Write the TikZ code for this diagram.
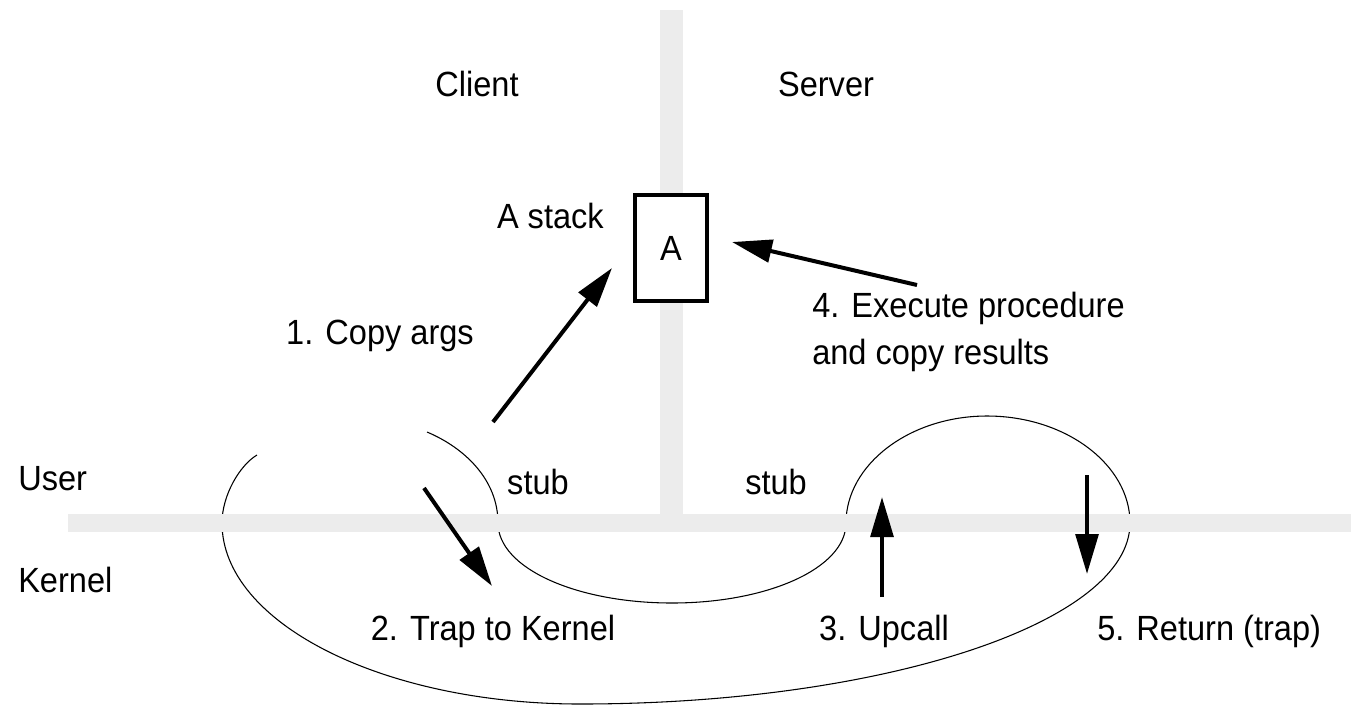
\documentclass[tikz,border=0pt]{standalone}
\usepackage{fontspec}
\setmainfont{Liberation Sans}[FakeStretch=0.93]
\usetikzlibrary{arrows.meta,positioning}
\definecolor{barcolor}{RGB}{236,236,236}
\tikzset{
       arr/.style = {-{Triangle[length=30pt,width=17pt]}, line width=3pt},   % <--- thick call arrows
       bar/.style = {fill=barcolor, draw=none},
  callpath/.style = {line width=0.8pt},
  stackbox/.style = {draw, line width=3pt, fill=white,
                     minimum width=54pt, minimum height=79.5pt},
       txt/.style = {anchor=base},
        }

\begin{document}
\begin{tikzpicture}[x=0.75pt,y=-0.75pt,
  every node/.style={font=\fontsize{26.25pt}{35pt}\selectfont, inner sep=0pt}]
  \useasboundingbox (0,0) rectangle (1351,708);
  % the control path through user and kernel
  \coordinate (p0) at (427,432);
  \coordinate (p1) at (498,523);
  \coordinate (p2) at (672,603);
  \coordinate (p3) at (846,523);
  \coordinate (p4) at (987,416);
  \coordinate (p5) at (1130,523);
  \coordinate (p6) at (580,704);
  \coordinate (p7) at (222,523);
  \coordinate (p8) at (257,455);
  \draw[callpath] (p0) .. controls (465,448) and (498,480) .. (p1)
    .. controls (498,568) and (576,603) .. (p2)
    .. controls (768,603) and (846,568) .. (p3)
    .. controls (846,465) and (909,416) .. (p4)
    .. controls (1066,416) and (1130,465) .. (p5)
    .. controls (1130,623) and (882,704) .. (p6)
    .. controls (383,704) and (222,623) .. (p7)
    .. controls (222,495) and (240,465) .. (p8);
  % client/server and user/kernel boundaries
  \fill[bar] (68,514) rectangle (1351,532);
  \fill[bar] (660,10) rectangle (683,532);
  \node[stackbox] (A) at (671,248) {A};
  \node[txt] (client) at (477,96) {Client};
  \node[txt] (server) at (826,96) {Server};
  \node[txt, anchor=base east] (astack) at (604,228) {A stack};
  \node[txt] (copy) at (380,344) {1. Copy args};
  \node[anchor=north west, align=left] (exec) at (812,292) {4. Execute procedure\\and copy results};
  \node[txt, anchor=base west] (user) at (18,490) {User};
  \node[txt, anchor=base west] (kernel) at (18,592) {Kernel};
  \node[txt] (stubl) at (538,494) {stub};
  \node[txt] (stubr) at (776,494) {stub};
  \node[txt] (trap) at (493,640) {2. Trap to Kernel};
  \node[txt] (upcall) at (884,640) {3. Upcall};
  \node[txt, anchor=base west] (ret) at (1097,640) {5. Return (trap)};
  % arrows
  \coordinate (copy tail) at (493,422);
  \coordinate (copy tip) at (612,268);
  \coordinate (exec tail) at (917,285);
  \coordinate (exec tip) at (732,242);
  \coordinate (trap tail) at (424,488);
  \coordinate (trap tip) at (492,586);
  \coordinate (up tail) at (882,597);
  \coordinate (up tip) at (882,497);
  \coordinate (ret tail) at (1087,475);
  \coordinate (ret tip) at (1087,574);
  \draw[arr] (copy tail) -- (copy tip);
  \draw[arr] (exec tail) -- (exec tip);
  \draw[arr] (trap tail) -- (trap tip);
  \draw[arr] (up tail) -- (up tip);
  \draw[arr] (ret tail) -- (ret tip);
\end{tikzpicture}
\end{document}
